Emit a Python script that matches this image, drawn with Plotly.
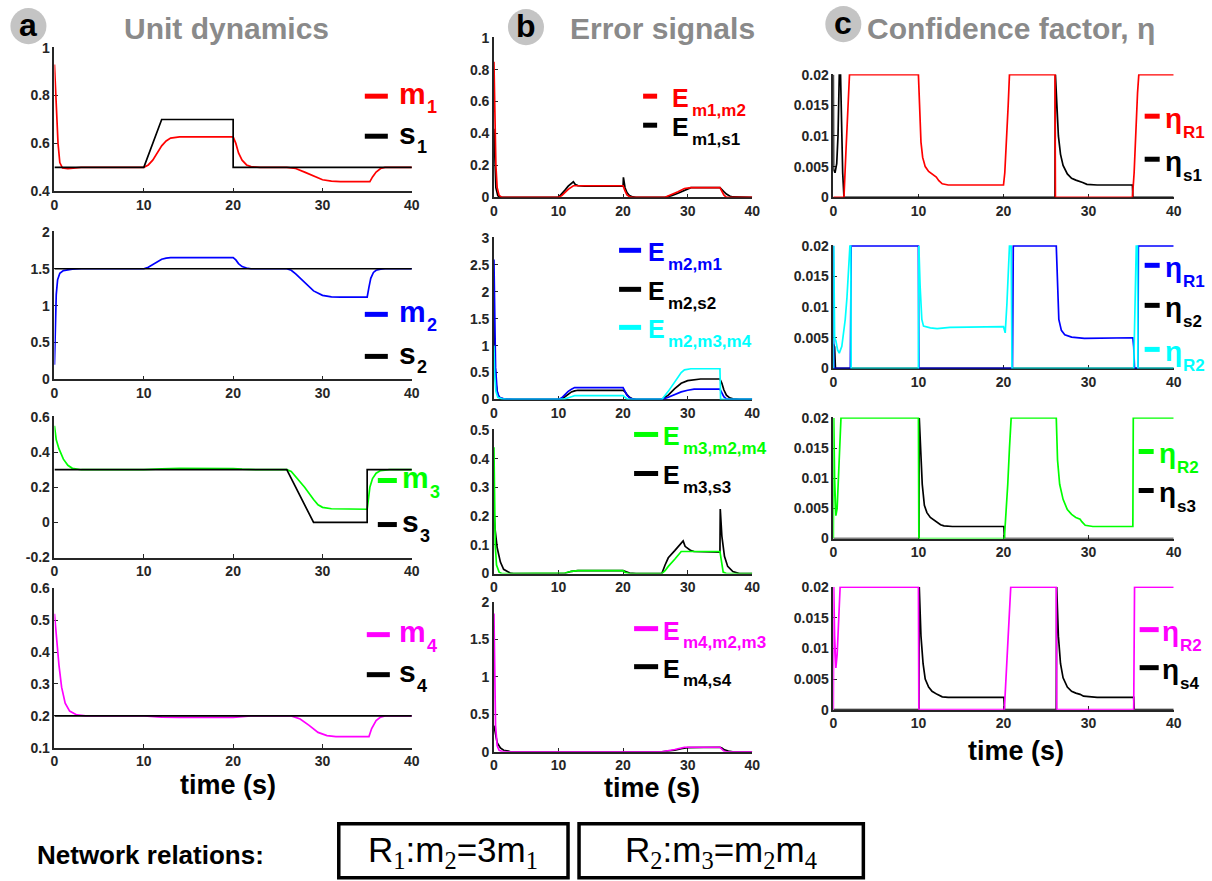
import plotly.graph_objects as go

W, H = 1212, 881

# ---------------- data (t in s, value) ----------------
# a: unit dynamics
m1 = [(0,0.93),(0.2,0.75),(0.4,0.6),(0.6,0.52),(0.9,0.497),(1.5,0.495),(3,0.5),(10,0.5),(10.5,0.51),(11,0.53),
      (11.5,0.56),(12,0.59),(12.5,0.61),(13,0.622),(14,0.627),(20,0.627),(20.3,0.6),(20.6,0.56),(21,0.53),(21.5,0.51),
      (22,0.503),(23,0.5),(26,0.5),(27,0.495),(28,0.48),(29,0.465),(30,0.448),(31,0.442),(32,0.44),(35.3,0.44),
      (35.6,0.46),(36,0.48),(36.5,0.495),(37,0.5),(40,0.5)]
s1 = [(0,0.5),(10,0.5),(12,0.7),(20,0.7),(20,0.5),(40,0.5)]
m2 = [(0,0.2),(0.1,0.8),(0.2,1.15),(0.35,1.35),(0.6,1.44),(1,1.475),(2,1.495),(3,1.5),(10,1.5),(10.5,1.52),(11,1.56),
      (11.5,1.6),(12,1.63),(12.5,1.645),(13,1.65),(20,1.65),(20.3,1.62),(20.6,1.57),(21,1.53),(21.5,1.51),(22,1.5),
      (26,1.5),(26.5,1.48),(27,1.43),(28,1.32),(29,1.2),(30,1.14),(31,1.12),(32,1.115),(35,1.115),(35.2,1.25),
      (35.4,1.37),(35.7,1.45),(36,1.48),(36.5,1.495),(37,1.5),(40,1.5)]
s2 = [(0,1.5),(40,1.5)]
m3 = [(0,0.55),(0.2,0.47),(0.5,0.42),(1,0.36),(1.5,0.325),(2,0.308),(3,0.3),(10,0.3),(12,0.305),(14,0.308),(20,0.307),
      (21,0.303),(23,0.3),(26,0.3),(26.5,0.29),(27,0.26),(28,0.2),(29,0.13),(29.5,0.1),(30,0.086),(31,0.078),(35,0.075),
      (35.1,0.13),(35.3,0.2),(35.6,0.25),(36,0.28),(36.5,0.295),(37.5,0.3),(40,0.3)]
s3 = [(0,0.3),(26,0.3),(29,0),(35,0),(35,0.3),(40,0.3)]
m4 = [(0,0.52),(0.2,0.45),(0.5,0.36),(0.8,0.29),(1.2,0.24),(1.7,0.215),(2.5,0.203),(3.5,0.2),(10,0.2),(12,0.196),
      (14,0.195),(20,0.195),(21,0.198),(22,0.2),(26.5,0.2),(27.5,0.19),(28.5,0.17),(29.5,0.148),(30.5,0.138),
      (31.5,0.135),(35.2,0.135),(35.5,0.16),(36,0.185),(36.5,0.196),(37,0.2),(40,0.2)]
s4 = [(0,0.2),(40,0.2)]

# b: error signals
E_m1m2 = [(0,0.85),(0.15,0.5),(0.3,0.2),(0.5,0.06),(0.8,0.012),(1.2,0),(10,0),(10.5,0.01),(11,0.03),(11.5,0.05),
          (12.3,0.072),(20,0.072),(20.3,0.04),(20.6,0.015),(21,0.003),(21.5,0),(26.5,0),(27.5,0.015),(28.5,0.035),
          (29.5,0.055),(30.5,0.06),(35,0.06),(35.3,0.04),(35.6,0.015),(36,0),(40,0)]
E_m1s1 = [(0,0.43),(0.1,0.25),(0.3,0.06),(0.6,0.01),(1,0),(10,0),(10.5,0.02),(11,0.045),(11.5,0.07),(12,0.09),
          (12.3,0.097),(12.6,0.08),(13,0.073),(14,0.07),(20,0.07),(20.05,0.125),(20.3,0.06),(20.6,0.03),(21,0.01),
          (21.5,0.002),(22,0),(26.5,0),(27.5,0.01),(28.5,0.025),(29.5,0.045),(30,0.055),(30.5,0.06),(35,0.06),
          (35.3,0.05),(35.6,0.035),(36,0.02),(36.5,0.008),(37,0.002),(38,0),(40,0)]
E_m2m1 = [(0,2.6),(0.1,1.5),(0.25,0.6),(0.5,0.15),(0.8,0.04),(1.5,0.01),(3,0),(10,0),(10.5,0.03),(11,0.09),
          (11.5,0.15),(12,0.19),(12.5,0.22),(20,0.22),(20.3,0.15),(20.6,0.08),(21,0.03),(21.5,0.005),(22,0),(26,0),
          (27,0.04),(28,0.09),(29,0.14),(30,0.17),(31,0.19),(35,0.19),(35.3,0.12),(35.6,0.05),(36,0.01),(36.5,0),(40,0)]
E_m2s2 = [(0,1.45),(0.1,0.8),(0.3,0.3),(0.6,0.08),(1,0.02),(2,0),(10,0),(10.5,0.01),(11,0.05),(11.5,0.1),(12,0.14),
          (12.5,0.16),(13,0.17),(20,0.17),(20.3,0.14),(20.6,0.09),(21,0.04),(21.5,0.01),(22,0),(26,0),(27,0.08),
          (28,0.2),(29,0.3),(30,0.35),(31,0.37),(32,0.38),(35,0.38),(35.3,0.3),(35.6,0.18),(36,0.08),(36.5,0.03),
          (37,0.01),(38,0),(40,0)]
E_m2m3m4 = [(0,1.0),(0.1,0.5),(0.3,0.15),(0.6,0.04),(1.2,0.01),(2,0),(10,0),(11,0.01),(12,0.05),(12.5,0.07),(20,0.07),
            (20.3,0.04),(20.6,0.01),(21,0),(26,0),(27,0.15),(28,0.32),(29,0.5),(29.5,0.55),(30.5,0.57),(35,0.57),
            (35.1,0),(40,0)]
E_m3m2m4 = [(0,0.44),(0.1,0.25),(0.2,0.1),(0.4,0.03),(0.8,0.005),(1.2,0),(10,0),(11,0.002),(12,0.008),(13,0.01),
            (20,0.01),(20.3,0.004),(21,0),(26,0),(26.5,0.01),(27,0.025),(28,0.05),(29,0.077),(35,0.077),(35.2,0.04),
            (35.5,0.005),(36,0),(40,0)]
E_m3s3 = [(0,0.22),(0.2,0.15),(0.5,0.09),(1,0.04),(1.5,0.015),(2.5,0.002),(3,0),(10,0),(11,0.001),(12,0.008),
          (13,0.01),(20,0.01),(20.3,0.008),(21,0.002),(22,0),(26,0),(26.5,0.03),(27,0.055),(28,0.08),(29,0.105),
          (29.3,0.114),(29.6,0.095),(30.5,0.08),(31,0.077),(35,0.075),(35.05,0.225),(35.3,0.13),(35.7,0.06),
          (36.2,0.025),(37,0.007),(38,0),(40,0)]
E_m4m2m3 = [(0,1.85),(0.1,1.0),(0.25,0.35),(0.5,0.08),(0.8,0.02),(1.2,0.005),(2,0),(26,0),(27,0.01),(28,0.03),
            (29,0.05),(29.5,0.06),(35,0.06),(35.3,0.04),(35.6,0.01),(36,0),(40,0)]
E_m4s4 = [(0,0.35),(0.2,0.25),(0.5,0.12),(1,0.05),(1.5,0.02),(2.5,0.003),(3,0),(26,0),(27,0.005),(28,0.02),(29,0.04),
          (30,0.055),(35,0.06),(35.3,0.05),(35.7,0.025),(36.3,0.008),(37,0),(40,0)]

# c: confidence factors
eta_R1_1 = [(0,0),(1.25,0),(1.5,0.008),(1.75,0.016),(1.9,0.02),(10,0.02),(10.15,0.014),(10.3,0.009),(10.5,0.0065),
            (10.8,0.005),(11.2,0.0042),(11.7,0.0037),(12.1,0.0033),(12.4,0.0027),(12.8,0.0022),(13.5,0.002),(20,0.002),
            (20.15,0.004),(20.35,0.009),(20.55,0.015),(20.7,0.02),(26.05,0.02),(26.1,0),(35.15,0),(35.35,0.004),
            (35.55,0.011),(35.75,0.017),(35.9,0.02),(40,0.02)]
eta_s1 = [(0,0.02),(0.03,0.0045),(0.2,0.004),(0.4,0.0055),(0.55,0.01),(0.7,0.02),(0.85,0.02),(0.95,0.012),(1.1,0.004),
          (1.25,0),(26.05,0),(26.1,0.02),(26.25,0.015),(26.45,0.01),(26.7,0.007),(27,0.0052),(27.5,0.0038),(28,0.0031),
          (28.5,0.0028),(29,0.0026),(29.3,0.0024),(29.8,0.0021),(31,0.002),(35.15,0.002),(35.2,0),(40,0)]
eta_R1_2 = [(0,0.02),(0.05,0),(2.0,0),(2.1,0.02),(10,0.02),(10.05,0),(21.05,0),(21.15,0.02),(26.2,0.02),(26.35,0.012),
            (26.5,0.008),(26.8,0.0062),(27.2,0.0055),(28,0.0051),(29.5,0.0049),(35.2,0.005),(35.3,0.0035),(35.4,0),
            (35.8,0),(35.85,0.02),(40,0.02)]
eta_s2 = [(0,0.004),(0.15,0.0035),(0.25,0),(40,0)]
eta_R2_2 = [(0,0),(0.05,0.02),(0.15,0.005),(0.3,0.0045),(0.5,0.003),(0.7,0.0025),(1.0,0.0036),(1.2,0.0055),(1.4,0.008),
            (1.6,0.0115),(1.8,0.016),(1.95,0.02),(2.05,0.02),(2.1,0),(10,0),(10.05,0.02),(10.2,0.0134),(10.4,0.008),
            (10.6,0.0069),(11.4,0.0066),(12.2,0.0065),(13.7,0.0067),(20,0.0068),(20.2,0.0058),(20.4,0.0105),
            (20.6,0.017),(20.7,0.02),(20.9,0.02),(21.0,0),(35.3,0),(35.45,0.008),(35.6,0.02),(35.75,0.02),(35.8,0),(40,0)]
eta_R2_3 = [(0,0),(0.05,0.02),(0.15,0.01),(0.3,0.0038),(0.45,0.005),(0.6,0.01),(0.75,0.016),(0.9,0.02),(10,0.02),
            (10.05,0),(20.1,0),(20.3,0.004),(20.5,0.009),(20.7,0.015),(20.9,0.02),(26.2,0.02),(26.35,0.013),(26.6,0.009),
            (27,0.0065),(27.5,0.0048),(28,0.004),(28.5,0.0035),(29,0.0032),(29.2,0.0028),(29.6,0.0022),(30.5,0.002),
            (35.2,0.002),(35.25,0.02),(40,0.02)]
eta_s3 = [(0,0),(10.05,0),(10.1,0.02),(10.25,0.014),(10.45,0.009),(10.7,0.0055),(11,0.0043),(11.4,0.0035),(11.8,0.0031),
          (12.2,0.0028),(12.6,0.0023),(13,0.0021),(14,0.002),(20.05,0.002),(20.1,0),(40,0)]
eta_R2_4 = [(0,0),(0.05,0.02),(0.15,0.012),(0.3,0.0068),(0.45,0.009),(0.6,0.014),(0.8,0.02),(10,0.02),(10.05,0),
            (20.1,0),(20.3,0.005),(20.5,0.011),(20.7,0.017),(20.85,0.02),(26.2,0.02),(26.25,0),(35.3,0),(35.4,0.02),(40,0.02)]
eta_s4 = [(0,0),(10.05,0),(10.1,0.02),(10.3,0.012),(10.55,0.0075),(10.8,0.005),(11.2,0.0037),(11.6,0.003),(12.2,0.0025),
          (12.8,0.0021),(13.5,0.002),(20.05,0.002),(20.1,0),(26.2,0),(26.25,0.02),(26.45,0.012),(26.7,0.0075),(27,0.0052),
          (27.5,0.0037),(28,0.003),(28.5,0.0027),(29,0.0025),(29.4,0.0022),(30,0.0021),(31,0.002),(35.3,0.002),
          (35.35,0),(40,0)]

x_ticks = [0, 10, 20, 30, 40]
y_ticks = {
    1: [0.4, 0.6, 0.8, 1], 2: [0, 0.5, 1, 1.5, 2], 3: [-0.2, 0, 0.2, 0.4, 0.6], 4: [0.1, 0.2, 0.3, 0.4, 0.5, 0.6],
    5: [0, 0.2, 0.4, 0.6, 0.8, 1], 6: [0, 0.5, 1, 1.5, 2, 2.5, 3], 7: [0, 0.1, 0.2, 0.3, 0.4, 0.5], 8: [0, 0.5, 1, 1.5, 2],
    9: [0, 0.005, 0.01, 0.015, 0.02], 10: [0, 0.005, 0.01, 0.015, 0.02], 11: [0, 0.005, 0.01, 0.015, 0.02],
    12: [0, 0.005, 0.01, 0.015, 0.02],
}

RED, BLUE, CYAN, GREEN, MAG, BLK = "#ff0000", "#0000ff", "#00ffff", "#00ff00", "#ff00ff", "#000000"

panels = {
    1: [(m1, RED), (s1, BLK)],
    2: [(m2, BLUE), (s2, BLK)],
    3: [(m3, GREEN), (s3, BLK)],
    4: [(m4, MAG), (s4, BLK)],
    5: [(E_m1s1, BLK), (E_m1m2, RED)],
    6: [(E_m2s2, BLK), (E_m2m1, BLUE), (E_m2m3m4, CYAN)],
    7: [(E_m3s3, BLK), (E_m3m2m4, GREEN)],
    8: [(E_m4s4, BLK), (E_m4m2m3, MAG)],
    9: [(eta_s1, BLK), (eta_R1_1, RED)],
    10: [(eta_s2, BLK), (eta_R1_2, BLUE), (eta_R2_2, CYAN)],
    11: [(eta_s3, BLK), (eta_R2_3, GREEN)],
    12: [(eta_s4, BLK), (eta_R2_4, MAG)],
}

# ---------------- layout geometry (pixels in the target picture) ----------------
boxes = {
    1: (54, 411, 48, 192), 2: (54, 411, 232, 380), 3: (54, 411, 417, 558), 4: (54, 411, 588, 748),
    5: (493, 751, 38, 198), 6: (493, 751, 238, 400), 7: (493, 751, 430, 574), 8: (493, 751, 602, 752),
    9: (832, 1172, 75, 198), 10: (832, 1172, 246, 369), 11: (832, 1172, 418, 539), 12: (832, 1172, 587, 710),
}

# correction for the capture (measured from an earlier render)
OX, SX, OY, SY = 3.6, 0.989, 8.9, 0.981

def fx(p):
    return ((p - OX) / SX) / W

def fy(p):
    return 1 - ((p - OY) / SY) / H

fig = go.Figure()
layout = dict(width=W, height=H, margin=dict(l=0, r=0, t=0, b=0), paper_bgcolor="white",
              plot_bgcolor="white", showlegend=False)

for k, series in panels.items():
    for pts, col in series:
        fig.add_trace(go.Scatter(x=[p[0] for p in pts], y=[p[1] for p in pts], mode="lines",
                                 line=dict(color=col, width=1.7), xaxis=f"x{k}", yaxis=f"y{k}",
                                 hoverinfo="skip"))
    x0, x1, y0, y1 = boxes[k]
    yt = y_ticks[k]
    span = yt[-1] - yt[0]
    pad = span * 0.004
    common = dict(showline=True, linecolor="#262626", linewidth=1.5, ticks="inside", ticklen=4,
                  tickcolor="#262626", tickwidth=1.2, showgrid=False, zeroline=False, layer="below traces",
                  tickfont=dict(family="Liberation Sans, Arial", size=14, color="#262626", weight="bold"))
    layout[f"xaxis{k}"] = dict(domain=[fx(x0), fx(x1)], anchor=f"y{k}", range=[0, 40],
                               tickvals=x_ticks, ticktext=[str(v) for v in x_ticks], **common)
    layout[f"yaxis{k}"] = dict(domain=[fy(y1), fy(y0)], anchor=f"x{k}", range=[yt[0], yt[-1] + pad],
                               tickvals=yt, ticktext=[("%g" % v) for v in yt], **common)

fig.update_layout(**layout)

shapes = []
ann = []

def text(x, y, s, size, color="#000", bold=True, xanchor="left", yanchor="middle", family="Liberation Sans, Arial"):
    ann.append(dict(x=fx(x), y=fy(y), xref="paper", yref="paper", text=s, showarrow=False,
                    xanchor=xanchor, yanchor=yanchor,
                    font=dict(family=family, size=size, color=color, weight="bold" if bold else "normal")))

for cx, cy, r, letter in [(28, 27, 18, "a"), (525, 28, 18, "b"), (842, 25, 18, "c")]:
    shapes.append(dict(type="circle", xref="paper", yref="paper", x0=fx(cx - r), x1=fx(cx + r),
                       y0=fy(cy + r), y1=fy(cy - r), fillcolor="#c4c4c4", line=dict(width=0)))
    text(cx, cy - 1, letter, 32, xanchor="center")
text(226, 29, "Unit dynamics", 30, color="#8a8a8a", xanchor="center")
text(661, 29, "Error signals", 30, color="#8a8a8a", xanchor="center")
text(1009, 29, "Confidence factor, η", 30, color="#8a8a8a", xanchor="center")

text(227, 785, "time (s)", 27, xanchor="center")
text(651, 788, "time (s)", 27, xanchor="center")
text(1014, 751, "time (s)", 27, xanchor="center")

legend_items = [
    (364, 387, 97, RED, "m", "1", 396, 424, 30, 18), (364, 387, 137, BLK, "s", "1", 396, 414, 30, 18),
    (364, 387, 315, BLUE, "m", "2", 396, 424, 30, 18), (364, 387, 357, BLK, "s", "2", 396, 414, 30, 18),
    (377, 396, 481, GREEN, "m", "3", 399, 427, 30, 18), (377, 396, 525, BLK, "s", "3", 399, 417, 30, 18),
    (366, 389, 635, MAG, "m", "4", 396, 424, 30, 18), (366, 389, 675, BLK, "s", "4", 396, 414, 30, 18),
    (642, 656, 97, RED, "E", "m1,m2", 669, 689, 25, 17), (642, 656, 126, BLK, "E", "m1,s1", 669, 689, 25, 17),
    (618, 640, 251, BLUE, "E", "m2,m1", 645, 665, 25, 17), (618, 640, 290, BLK, "E", "m2,s2", 645, 665, 25, 17),
    (618, 640, 328, CYAN, "E", "m2,m3,m4", 645, 665, 25, 17),
    (633, 657, 435, GREEN, "E", "m3,m2,m4", 660, 680, 25, 17), (633, 657, 474, BLK, "E", "m3,s3", 660, 680, 25, 17),
    (633, 657, 629, MAG, "E", "m4,m2,m3", 660, 680, 25, 17), (633, 657, 667, BLK, "E", "m4,s4", 660, 680, 25, 17),
    (1143, 1158, 117, RED, "η", "R1", 1161, 1179, 28, 17), (1143, 1158, 160, BLK, "η", "s1", 1161, 1179, 28, 17),
    (1143, 1158, 266, BLUE, "η", "R1", 1161, 1179, 28, 17), (1143, 1158, 306, BLK, "η", "s2", 1161, 1179, 28, 17),
    (1143, 1158, 350, CYAN, "η", "R2", 1161, 1179, 28, 17),
    (1137, 1152, 452, GREEN, "η", "R2", 1155, 1173, 28, 17), (1137, 1152, 491, BLK, "η", "s3", 1155, 1173, 28, 17),
    (1138, 1157, 630, MAG, "η", "R2", 1158, 1176, 28, 17), (1138, 1157, 668, BLK, "η", "s4", 1158, 1176, 28, 17),
]
for sx0, sx1, sy, col, main, sub, mx, subx, ms, ss in legend_items:
    shapes.append(dict(type="line", xref="paper", yref="paper", x0=fx(sx0), x1=fx(sx1), y0=fy(sy), y1=fy(sy),
                       line=dict(color=col, width=5)))
    if main == "E":
        my, sby = sy + 2, sy + 14
    elif main == "η":
        my, sby = sy + 2, sy + 16
    else:
        my, sby = sy - 3, sy + 11
    text(mx, my, main, ms, color=col)
    text(subx, sby, sub, ss, color=col)

text(35, 855, "Network relations:", 26, xanchor="left")
for bx0, bx1 in [(338, 567), (578, 862)]:
    shapes.append(dict(type="rect", xref="paper", yref="paper", x0=fx(bx0), x1=fx(bx1), y0=fy(878), y1=fy(824),
                       line=dict(color="#000", width=3.5), fillcolor="rgba(0,0,0,0)"))
SER = "<span style='font-family:Liberation Serif'>%s</span>"
text(452, 852, "R<sub>" + SER % "1" + "</sub>:m<sub>" + SER % "2" + "</sub>=3m<sub>" + SER % "1" + "</sub>",
     35, bold=False, xanchor="center")
text(720, 852, "R<sub>" + SER % "2" + "</sub>:m<sub>" + SER % "3" + "</sub>=m<sub>" + SER % "2" + "</sub>m<sub>"
     + SER % "4" + "</sub>", 35, bold=False, xanchor="center")

fig.update_layout(shapes=shapes, annotations=ann)
fig.write_html("out.html", config={"displayModeBar": False},
               post_script="document.body.style.margin='0';document.body.style.overflow='hidden';")
